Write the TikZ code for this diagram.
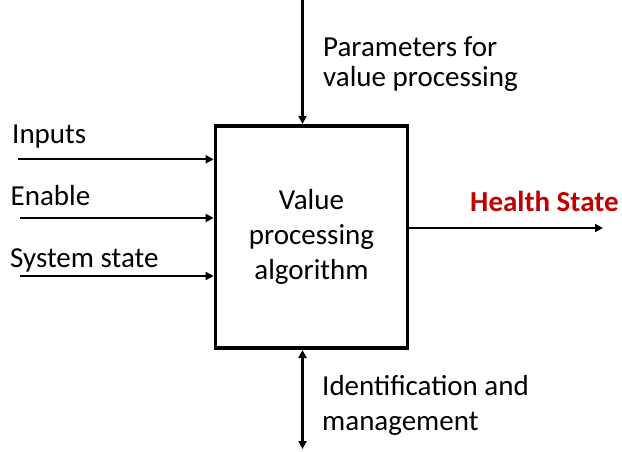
\documentclass[tikz,border=0pt]{standalone}
\usepackage{fontspec}
\setmainfont{Carlito}
\usetikzlibrary{arrows.meta}
\definecolor{hsred}{RGB}{192,0,0}
\begin{document}
\begin{tikzpicture}[x=1pt,y=-1pt,
  arr/.style={line width=2.1pt,-{Triangle[length=8pt,width=8pt]}},
  darr/.style={line width=2.1pt,{Triangle[length=8pt,width=8pt]}-{Triangle[length=8pt,width=8pt]}},
  lbl/.style={inner sep=0pt,anchor=base west,font=\fontsize{29}{35}\selectfont},
  procbox/.style={draw,line width=3.7pt,minimum width=192pt,minimum height=222.3pt,inner sep=0pt,
    align=center,font=\fontsize{29}{35}\selectfont}]
  \useasboundingbox (0,0) rectangle (622,452);

  % central processing block
  \node[procbox] (box) at (311.5,237) {Value\\processing\\algorithm};

  % inputs on the left
  \coordinate (in1) at (18,159.3);
  \coordinate (in2) at (20,218);
  \coordinate (in3) at (20,276);
  \draw[arr] (in1) -- (in1 -| box.west);
  \draw[arr] (in2) -- (in2 -| box.west);
  \draw[arr] (in3) -- (in3 -| box.west);
  \node[lbl] (tin1) at (12,143) {Inputs};
  \node[lbl] (tin2) at (10.5,205) {Enable};
  \node[lbl] (tin3) at (10,267) {System state};

  % parameters from above (anchored on the last line's baseline)
  \coordinate (ptop) at (302.5,0);
  \draw[arr] (ptop) -- (ptop |- box.north);
  \node[lbl,align=left,font=\fontsize{29}{30}\selectfont] (tpar) at (323,87)
    {Parameters for\\value processing};

  % identification and management below
  \coordinate (pbot) at (302.5,449);
  \draw[darr] (box.south -| pbot) -- (pbot);
  \node[lbl,align=left] (tid) at (322,430)
    {Identification and\\management};

  % output
  \coordinate (hs) at (603,228);
  \draw[arr] (box.east |- hs) -- (hs);
  \node[lbl,font=\fontsize{29}{35}\selectfont\bfseries,text=hsred] (ths) at (470,211) {Health State};
\end{tikzpicture}
\end{document}
